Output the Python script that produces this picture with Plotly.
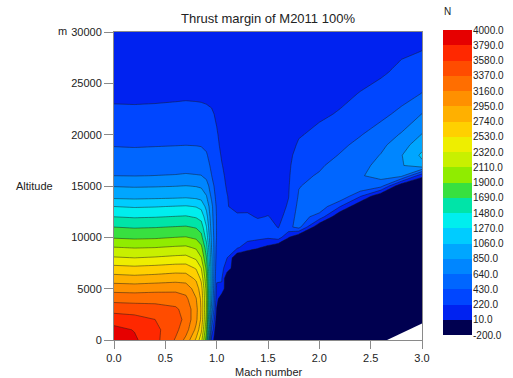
import numpy as np
import plotly.graph_objects as go

# ---------------- data ----------------
mach = [0.0, 0.2, 0.4, 0.6, 0.7, 0.8, 0.85, 0.9, 0.95, 1.0, 1.05, 1.1, 1.2,
        1.3, 1.4, 1.5, 1.6, 1.7, 1.8, 2.0, 2.2, 2.4, 2.6, 2.8, 3.0]
altitude = [0, 1000, 2000, 3000, 4000, 5000, 6000, 7000, 8000, 9000, 10000,
            11000, 12000, 13000, 14000, 15000, 16000, 17000, 18000, 19000,
            20000, 22000, 24000, 26000, 28000, 30000]

N = -200  # no thrust margin (lowest band)
# thrust margin [N], one list per Mach number (bottom -> top altitude)
m000 = [3900, 3850, 3700, 3500, 3300, 3080, 2830, 2600, 2340, 2120, 1880, 1690, 1480, 1270, 1000, 840, 640, 560, 480, 420, 360, 250, 190, 150, 120, 100]
m020 = [3820, 3780, 3660, 3480, 3290, 3070, 2810, 2580, 2320, 2100, 1860, 1670, 1460, 1250, 990, 830, 635, 555, 475, 415, 355, 248, 188, 148, 118, 98]
m040 = [3650, 3640, 3580, 3460, 3290, 3090, 2830, 2600, 2340, 2110, 1870, 1680, 1470, 1260, 1000, 835, 642, 560, 480, 420, 360, 252, 190, 150, 120, 100]
m060 = [3350, 3420, 3450, 3400, 3280, 3100, 2860, 2630, 2370, 2140, 1900, 1700, 1490, 1280, 1010, 845, 650, 565, 485, 425, 365, 258, 195, 153, 122, 101]
m070 = [3100, 3250, 3320, 3300, 3210, 3070, 2850, 2630, 2380, 2150, 1910, 1710, 1500, 1290, 1020, 855, 660, 570, 490, 428, 370, 262, 198, 155, 123, 102]
m080 = [2700, 2900, 3000, 3020, 2960, 2860, 2700, 2510, 2280, 2080, 1860, 1670, 1460, 1260, 1000, 840, 650, 565, 485, 425, 365, 258, 196, 154, 122, 101]
m085 = [2400, 2580, 2700, 2720, 2700, 2620, 2480, 2320, 2120, 1950, 1760, 1590, 1400, 1210, 970, 820, 645, 555, 480, 420, 360, 255, 194, 153, 121, 100]
m090 = [1800, 1950, 2050, 2100, 2100, 2050, 1950, 1850, 1700, 1580, 1400, 1280, 1150, 1000, 860, 740, 580, 510, 450, 390, 340, 248, 190, 150, 120, 100]
m095 = [150, 400, 600, 800, 900, 950, 950, 930, 900, 850, 800, 760, 720, 700, 600, 520, 435, 390, 350, 310, 290, 235, 185, 148, 118, 98]
m100 = [N, N, -100, 0, 100, 180, 250, 300, 350, 380, 420, 420, 420, 400, 360, 330, 300, 280, 260, 240, 230, 205, 170, 140, 115, 95]
m105 = [N, N, N, N, N, 200, 230, 260, 290, 310, 320, 320, 310, 300, 270, 255, 240, 225, 210, 200, 190, 180, 165, 135, 112, 92]
m110 = [N, N, N, N, N, N, N, 150, 225, 260, 280, 280, 260, 230, 225, 210, 200, 190, 180, 175, 170, 165, 160, 130, 110, 90]
m120 = [N] * 9 + [250, 300, 320, 250, 170, 160, 155, 150, 150, 150, 150, 150, 150, 150, 125, 105, 88]
m130 = [N] * 9 + [100, 300, 340, 260, 160, 140, 140, 140, 140, 140, 140, 140, 140, 140, 122, 104, 88]
m140 = [N] * 9 + [30, 280, 320, 200, 150, 140, 140, 140, 140, 140, 140, 140, 140, 140, 122, 104, 88]
m150 = [N] * 9 + [-50, 250, 300, 230, 150, 140, 140, 140, 140, 140, 140, 140, 140, 140, 122, 104, 88]
m160 = [N] * 10 + [320, 210, 160, 150, 145, 145, 145, 145, 145, 145, 145, 145, 145, 125, 106, 90]
m170 = [N] * 10 + [20, 380, 300, 240, 215, 205, 195, 188, 180, 175, 170, 165, 155, 140, 120, 100]
m180 = [N] * 11 + [500, 520, 490, 450, 420, 380, 330, 280, 235, 210, 185, 165, 145, 125, 105]
m200 = [N] * 12 + [350, 560, 540, 500, 450, 400, 350, 300, 250, 200, 175, 150, 130, 110]
m220 = [N] * 13 + [230, 600, 600, 560, 510, 440, 390, 350, 230, 190, 165, 140, 115]
m240 = [N] * 14 + [230, 630, 620, 580, 530, 480, 420, 300, 225, 180, 150, 125]
m260 = [N] * 15 + [500, 720, 700, 650, 590, 520, 380, 280, 200, 170, 135]
m280 = [N] * 16 + [700, 830, 840, 760, 660, 480, 350, 260, 200, 160]
m300 = [N] * 16 + [50, 1000, 1100, 980, 860, 645, 435, 330, 225, 170]

# region without data (bottom-right corner)
nodata_mach = [2.66, 3.0, 3.0, 2.66]
nodata_alt = [0, 0, 1600, 0]

levels = [-200, 10, 220, 430, 640, 850, 1060, 1270, 1480, 1690, 1900, 2110,
          2320, 2530, 2740, 2950, 3160, 3370, 3580, 3790, 4000]
level_labels = ["-200.0", "10.0", "220.0", "430.0", "640.0", "850.0",
                "1060.0", "1270.0", "1480.0", "1690.0", "1900.0", "2110.0",
                "2320.0", "2530.0", "2740.0", "2950.0", "3160.0", "3370.0",
                "3580.0", "3790.0", "4000.0"]
band_colors = ["#000050", "#0022F0", "#0046FF", "#0066FF", "#0086FF",
               "#00A6FF", "#00CCFF", "#00EEEE", "#00E4A8", "#38E040",
               "#90EC00", "#C8F000", "#EEEE00", "#FFD000", "#FFB000",
               "#FF9000", "#FF6E00", "#FF4C00", "#FF2800", "#E60000"]

x_ticks = [0.0, 0.5, 1.0, 1.5, 2.0, 2.5, 3.0]
y_ticks = [0, 5000, 10000, 15000, 20000, 25000, 30000]

# ---------------- figure ----------------
cols = [m000, m020, m040, m060, m070, m080, m085, m090, m095, m100, m105,
        m110, m120, m130, m140, m150, m160, m170, m180, m200, m220, m240,
        m260, m280, m300]
z = np.array(cols, dtype=float).T  # rows = altitude, cols = mach

nb = len(band_colors)
contour_cs = [[k / nb, band_colors[k]] for k in range(nb)] + [[1.0, band_colors[-1]]]
step_cs = []
for k, c in enumerate(band_colors):
    step_cs.append([k / nb, c])
    step_cs.append([(k + 1) / nb, c])

FONT = "Liberation Sans, Arial, sans-serif"
GRAY = "#8a8a8a"

fig = go.Figure()
fig.add_trace(go.Contour(
    x=mach, y=altitude, z=z,
    contours=dict(start=levels[1], end=levels[-1], size=levels[2] - levels[1],
                  coloring="fill", showlines=True),
    colorscale=contour_cs,
    line=dict(color="rgba(25,25,25,0.8)", width=0.6, smoothing=0),
    showscale=False, hoverinfo="skip",
))
fig.add_trace(go.Scatter(
    x=nodata_mach, y=nodata_alt, mode="lines", fill="toself",
    fillcolor="white", line=dict(width=0, color="white"),
    hoverinfo="skip", showlegend=False,
))
# colour bar drawn as a one-column heatmap with bin edges at the levels
fig.add_trace(go.Heatmap(
    x=[0, 1], y=levels, z=[[k] for k in range(nb)],
    colorscale=step_cs, zmin=-0.5, zmax=nb - 0.5, showscale=False,
    xaxis="x2", yaxis="y2", hoverinfo="skip",
))

W, H = 513, 378
L, R, T, B = 114, 0, 30, 38
pw, ph = W - L - R, H - T - B


def px_x(x):
    return (x - L) / pw


def px_y(y):
    return (H - B - y) / ph


fig.update_layout(
    template="none",
    width=W, height=H, autosize=False,
    margin=dict(l=L, r=R, t=T, b=B, pad=0, autoexpand=False),
    paper_bgcolor="white", plot_bgcolor="white",
    font=dict(family=FONT, size=11, color="#222"),
    showlegend=False,
    title=dict(text="Thrust margin of M2011 100%", x=px_x(268), xref="paper",
               xanchor="center", y=1 - 18 / H, yanchor="middle",
               font=dict(size=13, family=FONT, color="#222")),
    xaxis=dict(domain=[0, px_x(422)], range=[0, 3], tickvals=x_ticks,
               ticktext=[f"{v:.1f}" for v in x_ticks], ticks="outside",
               ticklen=8, tickcolor=GRAY, showline=True, linecolor=GRAY,
               mirror=True, showgrid=False, zeroline=False, automargin=False,
               tickfont=dict(size=11)),
    yaxis=dict(domain=[0, px_y(32)], range=[0, 30000], tickvals=y_ticks,
               ticktext=[str(v) for v in y_ticks], ticks="outside",
               ticklen=9, tickcolor=GRAY, showline=True, linecolor=GRAY,
               mirror=True, showgrid=False, zeroline=False, automargin=False,
               tickfont=dict(size=11)),
    xaxis2=dict(domain=[px_x(443), px_x(472)], range=[0, 1], anchor="y2",
                visible=False, automargin=False),
    yaxis2=dict(domain=[px_y(335), px_y(30)], range=[levels[0], levels[-1]],
                anchor="x2", side="right", tickvals=levels,
                ticktext=level_labels, ticks="", showgrid=False,
                zeroline=False, showline=False, automargin=False,
                tickfont=dict(size=10)),
    annotations=[
        dict(text="Mach number", x=px_x(269), y=px_y(372), xref="paper",
             yref="paper", showarrow=False, xanchor="center",
             yanchor="middle", font=dict(size=11)),
        dict(text="Altitude", x=px_x(34), y=px_y(186), xref="paper",
             yref="paper", showarrow=False, xanchor="center",
             yanchor="middle", font=dict(size=11)),
        dict(text="m", x=px_x(62), y=px_y(31), xref="paper", yref="paper",
             showarrow=False, xanchor="center", yanchor="middle",
             font=dict(size=11)),
        dict(text="N", x=px_x(447), y=px_y(12), xref="paper", yref="paper",
             showarrow=False, xanchor="center", yanchor="middle",
             font=dict(size=10)),
    ],
)

fig.write_html(
    "out.html",
    config={"displayModeBar": False},
    post_script="document.body.style.margin='0px';"
                "document.body.style.overflow='hidden';",
)
